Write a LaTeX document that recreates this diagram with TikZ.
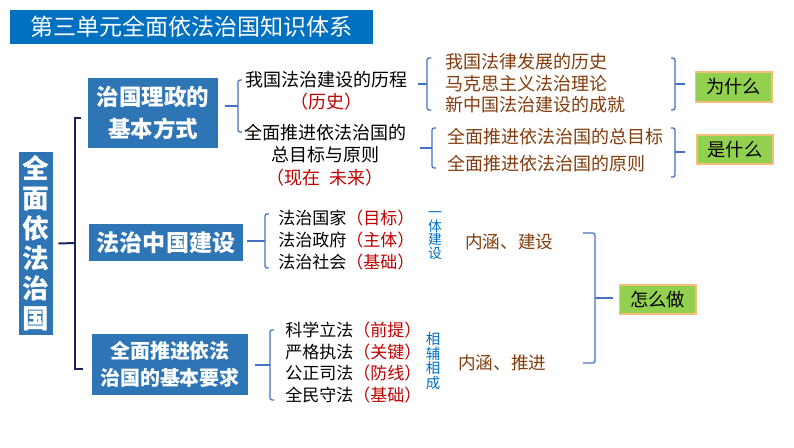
\documentclass[tikz,border=0pt]{standalone}
\usepackage{fontspec}
\setmainfont{Noto Sans CJK SC}
\usetikzlibrary{positioning}

\definecolor{titleblue}{RGB}{0,112,192}
\definecolor{boxblue}{RGB}{46,117,182}
\definecolor{navyline}{RGB}{30,34,86}
\definecolor{brkblue}{RGB}{68,114,196}
\definecolor{reasonbrown}{RGB}{132,60,12}
\definecolor{markred}{RGB}{192,0,0}
\definecolor{leafgreen}{RGB}{146,208,80}
\definecolor{sandedge}{RGB}{244,190,120}

\begin{document}
\begin{tikzpicture}[x=0.025cm, y=-0.025cm,
  head/.style={fill=titleblue, text=white, inner sep=0pt, minimum width=9.075cm, minimum height=0.85cm,
               font=\fontsize{16.4pt}{18pt}\selectfont},
  topic/.style={fill=boxblue, text=white, inner sep=0pt, align=center},
  answer/.style={fill=leafgreen, draw=sandedge, line width=1.4pt, inner sep=0pt,
                 minimum width=1.9cm, minimum height=0.73cm, font=\fontsize{13pt}{15pt}\selectfont},
  core/.style={inner sep=0pt, align=center},
  item/.style={inner sep=0pt, align=left, anchor=west},
  tag/.style={inner sep=0pt, align=center, text=titleblue},
  mainbrk/.style={draw=navyline, line width=1.4pt},
  brk/.style={draw=brkblue, line width=0.9pt, rounded corners=1.5pt}
]
\fill[white] (0,0) rectangle (794,447);
\useasboundingbox (0,0) rectangle (794,447);

% title and main topic
\node[head] (title) at (191.5,27) {第三单元全面依法治国知识体系};
\node[topic, minimum width=0.85cm, minimum height=4.575cm,
      font=\bfseries\fontsize{19pt}{21.3pt}\selectfont] (whole) at (36,243.5) {全\\面\\依\\法\\治\\国};

% three parts
\node[topic, minimum width=3.25cm, minimum height=1.75cm,
      font=\bfseries\fontsize{16pt}{22.5pt}\selectfont] (mode) at (153,113) {治国理政的\\基本方式};
\node[topic, minimum width=3.85cm, minimum height=0.925cm,
      font=\bfseries\fontsize{16.4pt}{19pt}\selectfont] (build) at (166,242.5) {法治中国建设};
\node[topic, minimum width=3.9cm, minimum height=1.525cm,
      font=\bfseries\fontsize{14.2pt}{19.2pt}\selectfont] (demand) at (170,364.5) {全面推进依法\\治国的基本要求};

% main bracket
\coordinate (maintip) at (75,243);
\draw[mainbrk] (81,118) -- (75,118) -- (75,369) -- (83,369);
\draw[mainbrk] (whole.east) ++(5,0) -- (maintip);

% first part
\coordinate (modetip) at (238,106);
\draw[brk] (242,80) -- (238,80) -- (238,132) -- (242,132);
\draw[brk] (modetip) -- ++(-13,0);
\node[core, font=\fontsize{12.8pt}{15.6pt}\selectfont] (course) at (326,91)
  {我国法治建设的历程\\\textcolor{markred}{（历史）}};
\node[core, font=\fontsize{12.8pt}{16pt}\selectfont] (aim) at (325,155)
  {全面推进依法治国的\\总目标与原则\\\textcolor{markred}{（现在\hspace{0.5em}未来）}};

\coordinate (rootstip) at (427,84);
\draw[brk] (431,58) -- (427,58) -- (427,110) -- (431,110);
\draw[brk] (rootstip) -- ++(-9,0);
\node[item, text=reasonbrown, font=\fontsize{12.8pt}{15.3pt}\selectfont] (roots) at (445,83.5)
  {我国法律发展的历史\\马克思主义法治理论\\新中国法治建设的成就};
\coordinate (whytip) at (675,84);
\draw[brk] (671,58) -- (675,58) -- (675,110) -- (671,110);
\draw[brk] (whytip) -- ++(10,0);
\node[answer] (why) at (733.5,87) {为什么};

\coordinate (goalstip) at (432,148);
\draw[brk] (436,128) -- (432,128) -- (432,168) -- (436,168);
\draw[brk] (goalstip) -- ++(-12,0);
\node[item, text=reasonbrown, font=\fontsize{12.8pt}{19.2pt}\selectfont] (goals) at (447,150.5)
  {全面推进依法治国的总目标\\全面推进依法治国的原则};
\coordinate (whattip) at (675,152);
\draw[brk] (671,128) -- (675,128) -- (675,177) -- (671,177);
\draw[brk] (whattip) -- ++(10,0);
\node[answer] (what) at (735,149.5) {是什么};

% second part
\coordinate (buildtip) at (265,241);
\draw[brk] (269,214) -- (265,214) -- (265,268) -- (269,268);
\draw[brk] (buildtip) -- ++(-18,0);
\node[item, font=\fontsize{12.1pt}{15.6pt}\selectfont] (three) at (278,240)
  {法治国家\textcolor{markred}{（目标）}\\法治政府\textcolor{markred}{（主体）}\\法治社会\textcolor{markred}{（基础）}};
\node[tag, font=\fontsize{9.8pt}{9.8pt}\selectfont] (unity) at (435,235.5) {一\\体\\建\\设};
\node[item, text=reasonbrown, font=\fontsize{12.5pt}{15pt}\selectfont] (sense1) at (465,242) {内涵、建设};

% third part
\coordinate (demandtip) at (270,365);
\draw[brk] (274,330) -- (270,330) -- (270,400) -- (274,400);
\draw[brk] (demandtip) -- ++(-15,0);
\node[item, font=\fontsize{12.1pt}{15.4pt}\selectfont] (four) at (285,362.5)
  {科学立法\textcolor{markred}{（前提）}\\严格执法\textcolor{markred}{（关键）}\\公正司法\textcolor{markred}{（防线）}\\全民守法\textcolor{markred}{（基础）}};
\node[tag, font=\fontsize{10.3pt}{10.3pt}\selectfont] (mutual) at (433,361) {相\\辅\\相\\成};
\node[item, text=reasonbrown, font=\fontsize{12.5pt}{15pt}\selectfont] (sense2) at (458,363) {内涵、推进};

% how
\coordinate (howtip) at (595,298);
\draw[brk] (583,233) -- (595,233) -- (595,363) -- (583,363);
\draw[brk] (howtip) -- ++(18,0);
\node[answer] (how) at (657.5,299.5) {怎么做};
\end{tikzpicture}
\end{document}
